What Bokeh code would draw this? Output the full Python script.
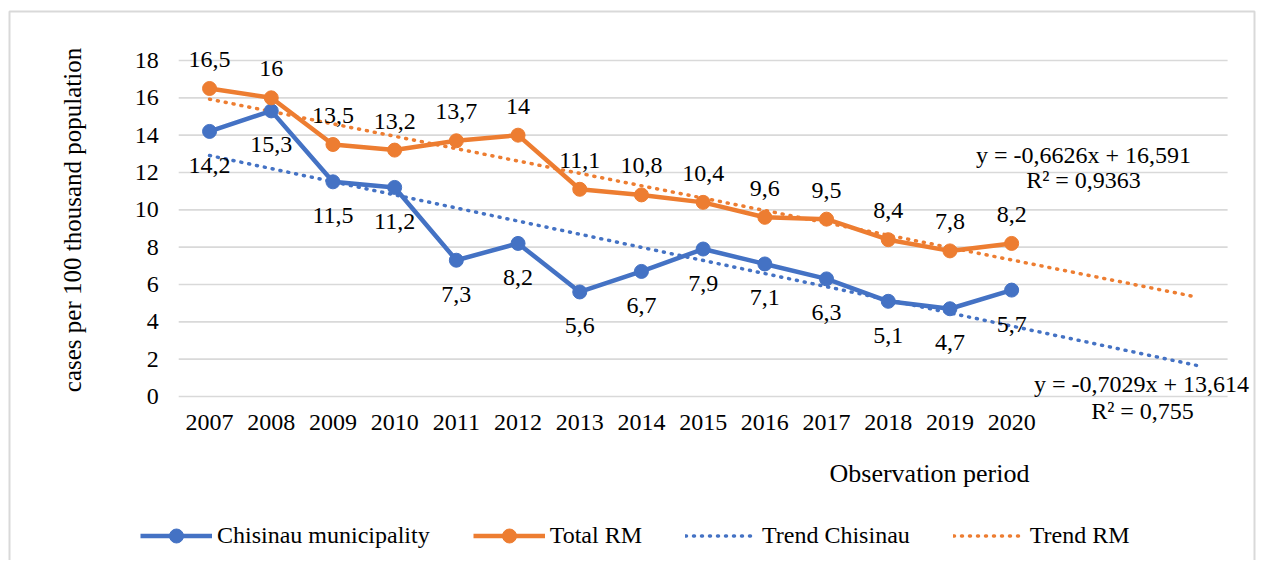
import math
from bokeh.plotting import figure
from bokeh.models import (Range1d, FixedTicker, Label, LabelSet, ColumnDataSource,
                          Legend, LegendItem)
from bokeh.core.properties import value
from bokeh.embed import file_html
from bokeh.resources import INLINE

# ---------------- data ----------------
years = ["2007", "2008", "2009", "2010", "2011", "2012", "2013",
         "2014", "2015", "2016", "2017", "2018", "2019", "2020"]
chisinau = [14.2, 15.3, 11.5, 11.2, 7.3, 8.2, 5.6, 6.7, 7.9, 7.1, 6.3, 5.1, 4.7, 5.7]
total_rm = [16.5, 16.0, 13.5, 13.2, 13.7, 14.0, 11.1, 10.8, 10.4, 9.6, 9.5, 8.4, 7.8, 8.2]
# linear trend lines (as given on the chart), x = period number 1..n
trend_chisinau_coef = [-0.7029, 13.614]
trend_rm_coef = [-0.6626, 16.591]
trend_chisinau_r2 = "0,755"
trend_rm_r2 = "0,9363"
forecast_periods = 3
y_ticks = [0, 2, 4, 6, 8, 10, 12, 14, 16, 18]
series_names = ["Chisinau municipality", "Total RM", "Trend Chisinau", "Trend RM"]
x_title = "Observation period"
y_title = "cases per 100 thousand population"

BLUE = "#4472C4"
ORANGE = "#ED7D31"
GRID = "#d9d9d9"
FONT = "Liberation Serif"
FS = "24px"

n = len(years)
xs = list(range(1, n + 1))
n_cat = n + forecast_periods

def fmt(v):
    return ("%g" % v).replace(".", ",")

def coef_text(c):
    s, b = c
    return "y = %sx + %s" % (("%g" % s).replace(".", ","), ("%g" % b).replace(".", ","))

# ---------------- layout (page pixels) ----------------
W, H = 1256, 560
PX0 = 178.2      # left edge of plot area
CAT = 61.7       # width of one category
PY0 = 396.0      # y of value 0
YU = 18.667      # pixels per unit

def dx(px):
    return 0.5 + (px - PX0) / CAT

def dy(py):
    return (PY0 - py) / YU

p = figure(width=W, height=H, x_range=Range1d(dx(0), dx(W)), y_range=Range1d(dy(H), dy(0)),
           output_backend="svg", toolbar_location=None, min_border=0)
p.outline_line_color = None
p.background_fill_color = "white"
p.border_fill_color = "white"

p.xgrid.visible = False
p.ygrid.visible = False
# horizontal gridlines limited to the plot area
p.segment(x0=[0.5] * len(y_ticks), x1=[n_cat + 0.5] * len(y_ticks), y0=y_ticks, y1=y_ticks,
          line_color=GRID, line_width=1.6)

p.yaxis.ticker = FixedTicker(ticks=y_ticks)
p.yaxis.fixed_location = 0.5
p.xaxis.ticker = FixedTicker(ticks=xs)
p.xaxis.major_label_overrides = {i: y for i, y in zip(xs, years)}
p.xaxis.fixed_location = 0
for ax in (p.xaxis, p.yaxis):
    ax.axis_line_color = None
    ax.major_tick_line_color = None
    ax.minor_tick_line_color = None
    ax.major_tick_out = 0
    ax.major_tick_in = 0
    ax.major_label_text_font = FONT
    ax.major_label_text_font_size = FS
    ax.major_label_text_color = "black"
p.yaxis.major_label_standoff = 20
p.xaxis.major_label_standoff = 18

# chart frame (light grey border, open at the bottom)
p.line([dx(9), dx(9), dx(1254), dx(1254)], [dy(H + 10), dy(11), dy(11), dy(H + 10)],
       line_color=GRID, line_width=2)

# trend lines
t_x = [1, n_cat]
tc = [trend_chisinau_coef[0] * x + trend_chisinau_coef[1] for x in t_x]
tr = [trend_rm_coef[0] * x + trend_rm_coef[1] for x in t_x]
r_tc = p.line(t_x, tc, line_color=BLUE, line_width=3.5, line_dash="1 7", line_cap="round")
r_tr = p.line(t_x, tr, line_color=ORANGE, line_width=3.5, line_dash="1 7", line_cap="round")

# data series
r_cl = p.line(xs, chisinau, line_color=BLUE, line_width=4.5, line_join="round")
r_cs = p.scatter(xs, chisinau, size=14, fill_color=BLUE, line_color=BLUE)
r_rl = p.line(xs, total_rm, line_color=ORANGE, line_width=4.5, line_join="round")
r_rs = p.scatter(xs, total_rm, size=14, fill_color=ORANGE, line_color=ORANGE)

# data labels
src_c = ColumnDataSource(dict(x=xs, y=chisinau, t=[fmt(v) for v in chisinau]))
src_r = ColumnDataSource(dict(x=xs, y=total_rm, t=[fmt(v) for v in total_rm]))
common = dict(text_font=value(FONT), text_font_size=value(FS), text_color="black",
              text_align="center", text_baseline="middle")
p.add_layout(LabelSet(x="x", y="y", text="t", source=src_c, y_offset=-34, **common))
p.add_layout(LabelSet(x="x", y="y", text="t", source=src_r, y_offset=29, **common))

def lab(text, px, py, angle=0.0, size=FS):
    p.add_layout(Label(x=dx(px), y=dy(py), text=text, angle=angle,
                       text_font=FONT, text_font_size=size, text_color="black",
                       text_align="center", text_baseline="middle"))

lab(coef_text(trend_rm_coef), 1083, 154)
lab("R² = " + trend_rm_r2, 1083, 179)
lab(coef_text(trend_chisinau_coef), 1141, 383)
lab("R² = " + trend_chisinau_r2, 1142, 410)
lab(x_title, 929, 473, size="26px")
lab(y_title, 72, 219.5, angle=math.pi / 2, size="25px")

legend = Legend(items=[
    LegendItem(label=series_names[0], renderers=[r_cl, r_cs]),
    LegendItem(label=series_names[1], renderers=[r_rl, r_rs]),
    LegendItem(label=series_names[2], renderers=[r_tc]),
    LegendItem(label=series_names[3], renderers=[r_tr]),
], orientation="horizontal", location=(140, 7), glyph_width=72, glyph_height=35,
    label_standoff=5, spacing=43, padding=0, margin=0, border_line_color=None,
    background_fill_alpha=0, label_text_font=FONT, label_text_font_size=FS,
    label_text_color="black")
p.add_layout(legend, "center")

open("out.html", "w").write(file_html(p, INLINE))
